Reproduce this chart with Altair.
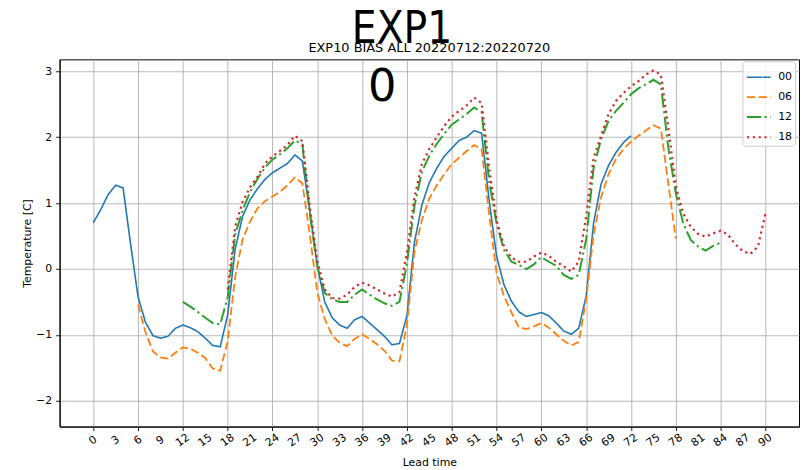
import altair as alt
import pandas as pd

series_names = ["00", "06", "12", "18"]
series_colors = ["#1f77b4", "#ff7f0e", "#2ca02c", "#d62728"]
series_dashes = [[1, 0], [8.2, 3.6], [14.2, 3.6, 2.2, 3.6], [2.2, 3.7]]
series_widths = [1.6, 2.2, 2.2, 2.2]
series_start = [0, 6, 12, 18]

values_00 = [0.70, 0.90, 1.13, 1.27, 1.23, 0.38, -0.42, -0.81, -1.01, -1.05,
             -1.02, -0.90, -0.85, -0.89, -0.95, -1.05, -1.16, -1.18, -0.70, 0.30,
             0.80, 1.05, 1.22, 1.36, 1.46, 1.53, 1.60, 1.73, 1.64, 0.88,
             0.05, -0.50, -0.74, -0.85, -0.90, -0.77, -0.72, -0.82, -0.92, -1.02,
             -1.15, -1.13, -0.71, 0.40, 0.97, 1.31, 1.53, 1.71, 1.83, 1.95,
             2.00, 2.10, 2.06, 1.05, 0.20, -0.24, -0.49, -0.65, -0.72, -0.69,
             -0.66, -0.71, -0.82, -0.94, -0.99, -0.90, -0.41, 0.70, 1.29, 1.57,
             1.77, 1.92, 2.02]
values_06 = [-0.54, -0.96, -1.25, -1.34, -1.36, -1.27, -1.19, -1.21, -1.27, -1.35,
             -1.51, -1.54, -1.10, -0.12, 0.45, 0.72, 0.92, 1.03, 1.10, 1.17,
             1.27, 1.39, 1.30, 0.52, -0.36, -0.76, -1.01, -1.12, -1.17, -1.06,
             -0.99, -1.06, -1.14, -1.24, -1.39, -1.40, -0.85, 0.25, 0.74, 1.07,
             1.27, 1.44, 1.59, 1.69, 1.79, 1.88, 1.82, 0.84, -0.06, -0.41,
             -0.66, -0.89, -0.91, -0.87, -0.82, -0.89, -0.99, -1.09, -1.16, -1.11,
             -0.46, 0.52, 1.09, 1.44, 1.67, 1.82, 1.93, 2.02, 2.10, 2.18,
             2.13, 1.29, 0.46]
values_12 = [-0.50, -0.57, -0.65, -0.74, -0.82, -0.84, -0.43, 0.52, 0.89, 1.17,
             1.37, 1.54, 1.66, 1.74, 1.83, 1.95, 1.89, 0.84, 0.04, -0.36,
             -0.46, -0.50, -0.50, -0.39, -0.31, -0.39, -0.46, -0.52, -0.56, -0.50,
             0.08, 0.95, 1.47, 1.72, 1.90, 2.05, 2.19, 2.27, 2.35, 2.45,
             2.38, 1.34, 0.69, 0.29, 0.11, 0.06, 0.00, 0.07, 0.18, 0.11,
             0.05, -0.09, -0.15, -0.09, 0.45, 1.54, 1.97, 2.25, 2.40, 2.52,
             2.65, 2.74, 2.80, 2.87, 2.80, 1.84, 1.15, 0.69, 0.44, 0.34,
             0.28, 0.35, 0.40]
values_18 = [-0.31, 0.64, 1.02, 1.24, 1.40, 1.60, 1.71, 1.79, 1.88, 2.02,
             1.94, 0.94, 0.12, -0.31, -0.44, -0.45, -0.39, -0.27, -0.21, -0.25,
             -0.31, -0.37, -0.42, -0.35, 0.25, 1.08, 1.59, 1.82, 2.00, 2.17,
             2.31, 2.40, 2.48, 2.60, 2.52, 1.54, 0.74, 0.34, 0.17, 0.11,
             0.11, 0.19, 0.25, 0.20, 0.11, 0.04, -0.04, 0.11, 0.80, 1.69,
             2.02, 2.35, 2.55, 2.67, 2.77, 2.85, 2.95, 3.01, 2.95, 2.14,
             1.25, 0.84, 0.64, 0.53, 0.49, 0.54, 0.58, 0.52, 0.37, 0.27,
             0.23, 0.34, 0.84]

x_ticks = [0, 3, 6, 9, 12, 15, 18, 21, 24, 27, 30, 33, 36, 39, 42, 45,
           48, 51, 54, 57, 60, 63, 66, 69, 72, 75, 78, 81, 84, 87, 90]
x_tick_labels = [str(t) for t in x_ticks]
y_ticks = [-2, -1, 0, 1, 2, 3]

suptitle = "EXP1"
subtitle = "EXP10 BIAS ALL 20220712:20220720"
note_text = ["0"]
note_x = [38.7]
note_y = [2.55]

rows = []
for name, start, vals in zip(series_names, series_start,
                             [values_00, values_06, values_12, values_18]):
    for i, v in enumerate(vals):
        rows.append({"series": name, "lead": start + i, "value": v})
df = pd.DataFrame(rows)

FONT = "DejaVu Sans"

xscale = alt.Scale(domain=[-4.5, 94.5], nice=False, zero=False)
yscale = alt.Scale(domain=[-2.39, 3.18], nice=False, zero=False)

lines = alt.Chart(df).mark_line(clip=True).encode(
    x=alt.X("lead:Q", scale=xscale,
            axis=alt.Axis(values=x_ticks, title="Lead time", labels=False,
                          titlePadding=26, grid=True)),
    y=alt.Y("value:Q", scale=yscale,
            axis=alt.Axis(values=y_ticks, title="Temperature [C]", format="d",
                          grid=True, titlePadding=3)),
    color=alt.Color("series:N", scale=alt.Scale(domain=series_names, range=series_colors),
                    legend=alt.Legend(title=None, orient="none", legendX=688, legendY=2)),
    strokeDash=alt.StrokeDash("series:N", scale=alt.Scale(domain=series_names, range=series_dashes),
                              legend=alt.Legend(title=None, orient="none", legendX=688, legendY=2)),
    strokeWidth=alt.StrokeWidth("series:N", scale=alt.Scale(domain=series_names, range=series_widths),
                                legend=None),
    order="lead:Q",
)

xlabels = alt.Chart(pd.DataFrame({"lead": x_ticks, "lab": x_tick_labels})).mark_text(
    font=FONT, fontSize=11, angle=325, align="center", baseline="middle", color="black"
).encode(x=alt.X("lead:Q", scale=xscale), y=alt.value(384), text="lab:N")

note = alt.Chart(pd.DataFrame({"t": note_text, "x": note_x, "y": note_y})).mark_text(
    font=FONT, fontSize=45, baseline="alphabetic", align="center", color="black"
).encode(x=alt.X("x:Q", scale=xscale), y=alt.Y("y:Q", scale=yscale), text="t:N")

sup = alt.Chart(pd.DataFrame({"t": [suptitle]})).mark_text(
    font="DejaVu Sans Condensed, DejaVu Sans", fontSize=44,
    baseline="alphabetic", align="center", color="black"
).encode(x=alt.value(345), y=alt.value(-16), text="t:N")

sub = alt.Chart(pd.DataFrame({"t": [subtitle]})).mark_text(
    font=FONT, fontSize=13, baseline="alphabetic", align="center", color="black"
).encode(x=alt.value(372.5), y=alt.value(-7), text="t:N")

chart = alt.layer(lines, xlabels, note, sup, sub).properties(
    width=745, height=370,
    padding={"left": 52, "top": 50, "right": 3, "bottom": 40},
    autosize=alt.AutoSizeParams(type="none"),
).configure_view(
    stroke="black", strokeWidth=1
).configure_axis(
    labelFont=FONT, titleFont=FONT, labelFontSize=11, titleFontSize=11,
    titleFontWeight="normal", labelColor="black", titleColor="black",
    domainColor="black", domainWidth=1, tickColor="black", tickWidth=0.9,
    tickSize=4, gridColor="#b0b0b0", gridWidth=0.9, gridOpacity=1,
    labelPadding=4,
).configure_legend(
    labelFont=FONT, labelFontSize=11, labelColor="black",
    symbolType="stroke", symbolSize=576, symbolStrokeWidth=2,
    strokeColor="#cccccc", fillColor="rgba(255,255,255,0.8)", cornerRadius=3,
    padding=3, labelOffset=6, rowPadding=2,
)

chart.save("out.html", embed_options={"renderer": "svg", "actions": False})
